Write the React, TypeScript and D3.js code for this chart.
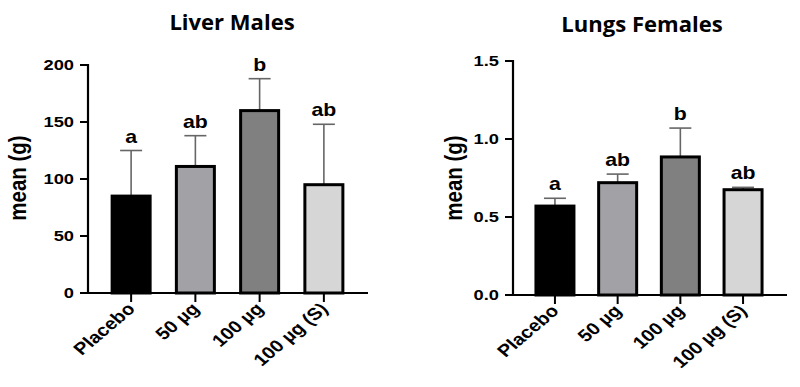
import * as d3 from "d3";

const groups = ["Placebo", "50 µg", "100 µg", "100 µg (S)"];
const fills = ["#000000", "#a2a2a6", "#808080", "#d6d6d6"];

const liverMean = [85, 111, 160, 95];
const liverErr = [125, 138, 188, 148];
const liverLetters = ["a", "ab", "b", "ab"];
const liverTicks = [0, 50, 100, 150, 200];

const lungsMean = [0.57, 0.72, 0.885, 0.675];
const lungsErr = [0.62, 0.775, 1.07, 0.69];
const lungsLetters = ["a", "ab", "b", "ab"];
const lungsTicks = [0, 0.5, 1.0, 1.5];

const width = 800;
const height = 387;
const font = "'Liberation Sans', Arial, sans-serif";
// the original figure is a bit stretched sideways
const stretch = 1.18;

type PanelProps = {
  title: string;
  titleX: number;
  titleY: number;
  mean: number[];
  err: number[];
  letters: string[];
  ticks: number[];
  fmt: (v: number) => string;
  domainMax: number;
  axisX: number;
  axisEnd: number;
  xRange: [number, number];
  yRange: [number, number];
  labelX: number;
  labelY: number;
};

function Panel(p: PanelProps) {
  const x = d3.scalePoint<string>().domain(groups).range(p.xRange).padding(0.5);
  const y = d3.scaleLinear().domain([0, p.domainMax]).range(p.yRange);
  const barW = 38;
  const capW = 22;
  const y0 = y(0);

  return (
    <g>
      <text
        transform={`translate(${p.titleX},${p.titleY}) scale(1.05,1)`}
        textAnchor="middle"
        fontFamily="'Open Sans', sans-serif"
        fontWeight="bold"
        fontSize={21}
        fill="#000"
      >
        {p.title}
      </text>
      <text
        transform={`translate(${p.labelX},${p.labelY}) scale(${stretch},1) rotate(-90)`}
        textAnchor="middle"
        fontFamily={font}
        fontWeight="bold"
        fontSize={20.5}
        fill="#000"
      >
        mean (g)
      </text>

      {groups.map((g, i) => {
        const cx = x(g)!;
        return (
          <g key={g}>
            <line x1={cx} x2={cx} y1={y(p.mean[i])} y2={y(p.err[i])} stroke="#666" strokeWidth={1.6} />
            <line x1={cx - capW / 2} x2={cx + capW / 2} y1={y(p.err[i])} y2={y(p.err[i])} stroke="#666" strokeWidth={1.6} />
            <rect
              x={cx - barW / 2}
              y={y(p.mean[i])}
              width={barW}
              height={y0 - y(p.mean[i])}
              fill={fills[i]}
              stroke="#000"
              strokeWidth={3}
            />
            <text
              transform={`translate(${cx},${y(p.err[i]) - 8}) scale(${stretch},1)`}
              textAnchor="middle"
              fontFamily={font}
              fontWeight="bold"
              fontSize={18}
              fill="#000"
            >
              {p.letters[i]}
            </text>
            <line x1={cx} x2={cx} y1={y0} y2={y0 + 9} stroke="#000" strokeWidth={2} />
            <text
              transform={`translate(${cx + 5},${y0 + 17}) scale(${stretch},1) rotate(-45)`}
              textAnchor="end"
              fontFamily={font}
              fontWeight="bold"
              fontSize={17}
              fill="#000"
            >
              {g}
            </text>
          </g>
        );
      })}

      <line x1={p.axisX} x2={p.axisX} y1={y(p.domainMax) - 1} y2={y0} stroke="#000" strokeWidth={2.2} />
      <line x1={p.axisX - 1} x2={p.axisEnd} y1={y0} y2={y0} stroke="#000" strokeWidth={2.2} />
      {p.ticks.map((t) => (
        <g key={t}>
          <line x1={p.axisX - 8} x2={p.axisX} y1={y(t)} y2={y(t)} stroke="#000" strokeWidth={2} />
          <text
            transform={`translate(${p.axisX - 14},${y(t)}) scale(1.22,1)`}
            dy="0.35em"
            textAnchor="end"
            fontFamily={font}
            fontWeight="bold"
            fontSize={15}
            fill="#000"
          >
            {p.fmt(t)}
          </text>
        </g>
      ))}
    </g>
  );
}

export default function App() {
  return (
    <svg width={width} height={height} style={{ position: "absolute", left: 0, top: 0, background: "#fff" }}>
      <rect width={width} height={height} fill="#fff" />
      <Panel
        title="Liver Males"
        titleX={232}
        titleY={30}
        mean={liverMean}
        err={liverErr}
        letters={liverLetters}
        ticks={liverTicks}
        fmt={(v) => d3.format("d")(v)}
        domainMax={200}
        axisX={88}
        axisEnd={368}
        xRange={[99, 356]}
        yRange={[293, 65]}
        labelX={26}
        labelY={178}
      />
      <Panel
        title="Lungs Females"
        titleX={642}
        titleY={32}
        mean={lungsMean}
        err={lungsErr}
        letters={lungsLetters}
        ticks={lungsTicks}
        fmt={(v) => d3.format(".1f")(v)}
        domainMax={1.5}
        axisX={513}
        axisEnd={787}
        xRange={[523.6, 774.4]}
        yRange={[295, 61]}
        labelX={462}
        labelY={178}
      />
    </svg>
  );
}
